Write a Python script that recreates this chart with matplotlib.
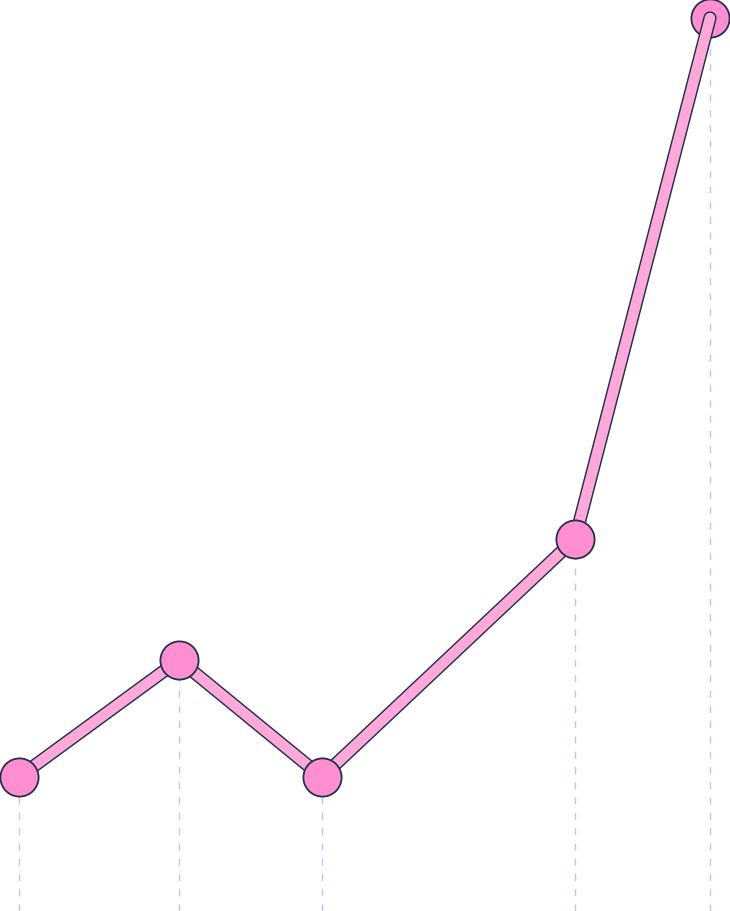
import matplotlib
matplotlib.use("Agg")
import matplotlib.pyplot as plt

x_vals = [19, 179, 322, 575, 710]
y_vals = [134, 251, 134, 372, 893]

LINE_PINK = "#ffa8da"
DOT_PINK = "#ff8fd1"
OUTLINE = "#23304e"
GUIDE = "#c4befa"

fig = plt.figure(figsize=(7.3, 9.12), dpi=100)
ax = fig.add_axes([0, 0, 1, 1])
ax.set_xlim(0, 730)
ax.set_ylim(0, 912)
ax.axis("off")

# dashed guides from each point down to the bottom
for x, y in zip(x_vals, y_vals):
    ax.plot([x, x], [0, y], color=GUIDE, lw=1.0, linestyle=(0, (5, 6)), zorder=0)

# main line: dark outline underneath, pink on top
ax.plot(x_vals, y_vals, color=OUTLINE, lw=9.6, solid_capstyle="round",
        solid_joinstyle="round", zorder=2)
ax.plot(x_vals, y_vals, color=LINE_PINK, lw=7.5, solid_capstyle="round",
        solid_joinstyle="round", zorder=2.1)

# markers: last one sits under the line
ax.plot(x_vals[:-1], y_vals[:-1], "o", ms=27.5, mfc=DOT_PINK, mec=OUTLINE,
        mew=1.3, zorder=3, clip_on=False)
ax.plot(x_vals[-1:], y_vals[-1:], "o", ms=27.5, mfc=DOT_PINK, mec=OUTLINE,
        mew=1.3, zorder=1, clip_on=False)

fig.savefig("out.png", dpi=100, facecolor="white")
